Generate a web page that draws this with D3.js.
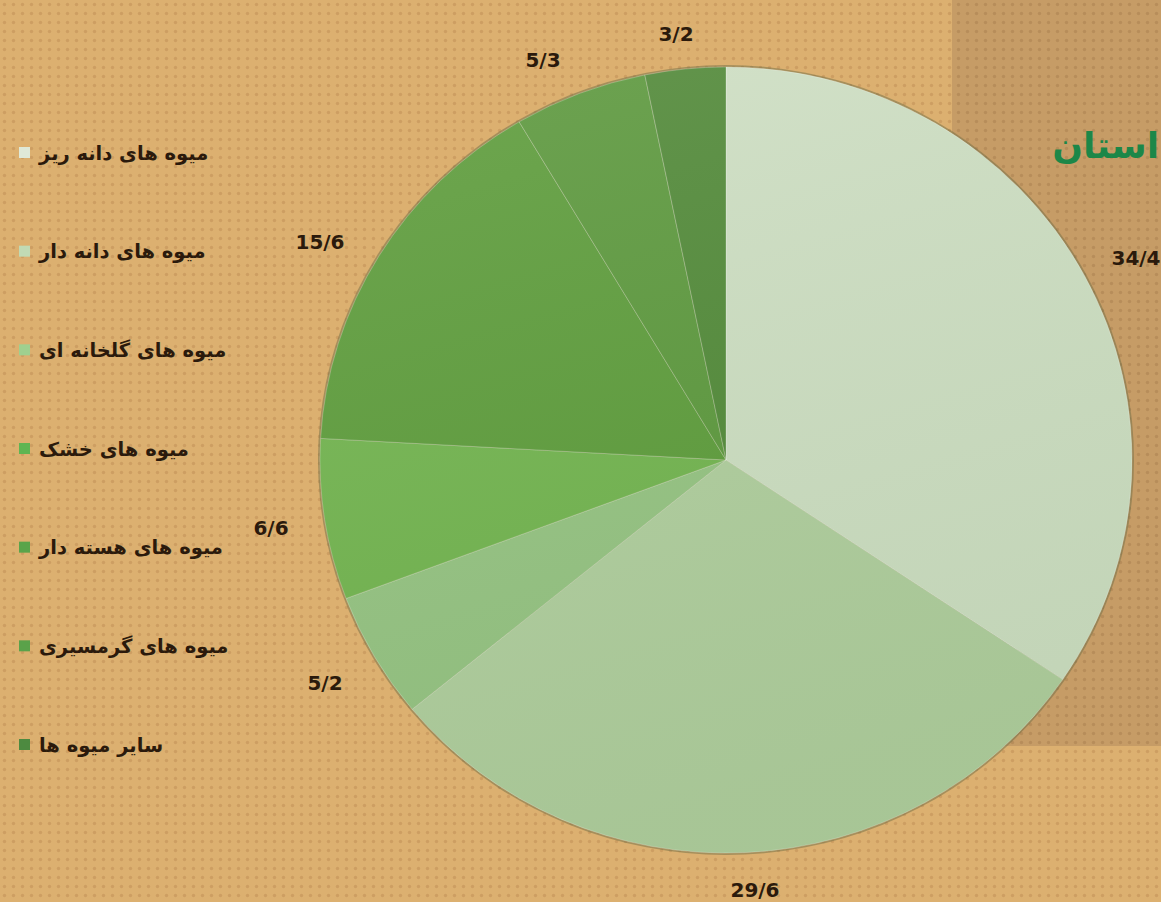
<!DOCTYPE html>
<html>
<head>
<meta charset="utf-8">
<script src="https://cdn.jsdelivr.net/npm/d3@7"></script>
<style>
  html, body { margin: 0; padding: 0; background: #dcb070; }
  svg { display: block; }
  .lbl { font-family: "DejaVu Sans", sans-serif; font-weight: bold; font-size: 20px; fill: #2b1a0c; }
  .leg { font-family: "DejaVu Sans", sans-serif; font-weight: bold; font-size: 19.5px; fill: #2b1a0c; }
  .title { font-family: "DejaVu Sans", sans-serif; font-weight: bold; font-size: 36px; fill: #1c8748; }
</style>
</head>
<body>
<div id="chart"></div>
<script>
var width = 1161,
    height = 902;

// chart data, clockwise from 12 o'clock
var categories = ["میوه های دانه ریز", "میوه های دانه دار", "میوه های گلخانه ای",
    "میوه های خشک", "میوه های هسته دار", "میوه های گرمسیری", "سایر میوه ها"];
var values = [34.4, 29.6, 5.2, 6.6, 15.6, 5.3, 3.2];
var valueLabels = ["34/4", "29/6", "5/2", "6/6", "15/6", "5/3", "3/2"];
var sliceColors = ["#cfdfc4", "#b2cfa0", "#97c484", "#74b551", "#5f9d3d", "#5e993f", "#538a3a"];
var legendColors = ["#dfe9d8", "#c1dab4", "#9fd08f", "#5fb552", "#5aa44a", "#5aa24a", "#4d8a40"];
var titleText = "استان";

var svg = d3.select("#chart").append("svg")
    .attr("width", width)
    .attr("height", height);

// dotted background
var defs = svg.append("defs");
var pat = defs.append("pattern")
    .attr("id", "dots")
    .attr("width", 9)
    .attr("height", 9)
    .attr("patternUnits", "userSpaceOnUse");
pat.append("rect").attr("width", 9).attr("height", 9).attr("fill", "#dcb070");
pat.append("circle").attr("cx", 4.5).attr("cy", 4.5).attr("r", 1.7).attr("fill", "#cd9e62");

var pat2 = defs.append("pattern")
    .attr("id", "dots2")
    .attr("width", 9)
    .attr("height", 9)
    .attr("patternUnits", "userSpaceOnUse");
pat2.append("rect").attr("width", 9).attr("height", 9).attr("fill", "#c69c66");
pat2.append("circle").attr("cx", 4.5).attr("cy", 4.5).attr("r", 1.7).attr("fill", "#b78d5a");

// soft light-to-dark shading over the pie
var shade = defs.append("linearGradient")
    .attr("id", "shade")
    .attr("x1", 0).attr("y1", 0)
    .attr("x2", 0.3).attr("y2", 1);
shade.append("stop").attr("offset", "0%").attr("stop-color", "#ffffff").attr("stop-opacity", 0.1);
shade.append("stop").attr("offset", "100%").attr("stop-color", "#1d4a10").attr("stop-opacity", 0.07);

svg.append("rect")
    .attr("width", width)
    .attr("height", height)
    .attr("fill", "url(#dots)");

// darker panel behind the right side
svg.append("rect")
    .attr("x", 952)
    .attr("y", -60)
    .attr("width", 320)
    .attr("height", 806)
    .attr("rx", 55)
    .attr("fill", "url(#dots2)");

svg.append("text")
    .attr("class", "title")
    .attr("x", 1159)
    .attr("y", 158)
    .attr("text-anchor", "end")
    .text(titleText);

// pie
var cx = 726, cy = 460, r = 406;

var pie = d3.pie().sort(null).value(function(d) { return d; });
var arcs = pie(values);
var arc = d3.arc().innerRadius(0).outerRadius(r);

var g = svg.append("g")
    .attr("transform", "translate(" + cx + "," + cy + ") scale(1,0.968)");

g.append("circle")
    .attr("r", r + 2)
    .attr("fill", "#6f6d45")
    .attr("opacity", 0.5);

g.selectAll("path.slice")
    .data(arcs)
    .enter().append("path")
    .attr("class", "slice")
    .attr("d", arc)
    .attr("fill", function(d, i) { return sliceColors[i]; })
    .attr("stroke", "rgba(255,255,255,0.25)")
    .attr("stroke-width", 1);

g.append("circle")
    .attr("r", r)
    .attr("fill", "url(#shade)");

// value labels, placed outside the pie
var labelPos = [[1136, 258], [755, 890], [325, 683], [271, 528], [320, 242], [543, 60], [676, 34]];
svg.selectAll("text.lbl")
    .data(valueLabels)
    .enter().append("text")
    .attr("class", "lbl")
    .attr("x", function(d, i) { return labelPos[i][0]; })
    .attr("y", function(d, i) { return labelPos[i][1]; })
    .attr("text-anchor", "middle")
    .attr("dominant-baseline", "central")
    .text(function(d) { return d; });

// legend
var ly = d3.scalePoint()
    .domain(categories)
    .range([153, 745]);

var leg = svg.selectAll("g.legend")
    .data(categories)
    .enter().append("g")
    .attr("class", "legend")
    .attr("transform", function(d) { return "translate(0," + ly(d) + ")"; });

leg.append("rect")
    .attr("x", 19)
    .attr("y", -6)
    .attr("width", 11)
    .attr("height", 11)
    .attr("fill", function(d, i) { return legendColors[i]; });

leg.append("text")
    .attr("class", "leg")
    .attr("x", 39)
    .attr("y", 0)
    .attr("dominant-baseline", "central")
    .text(function(d) { return d; });
</script>
</body>
</html>
